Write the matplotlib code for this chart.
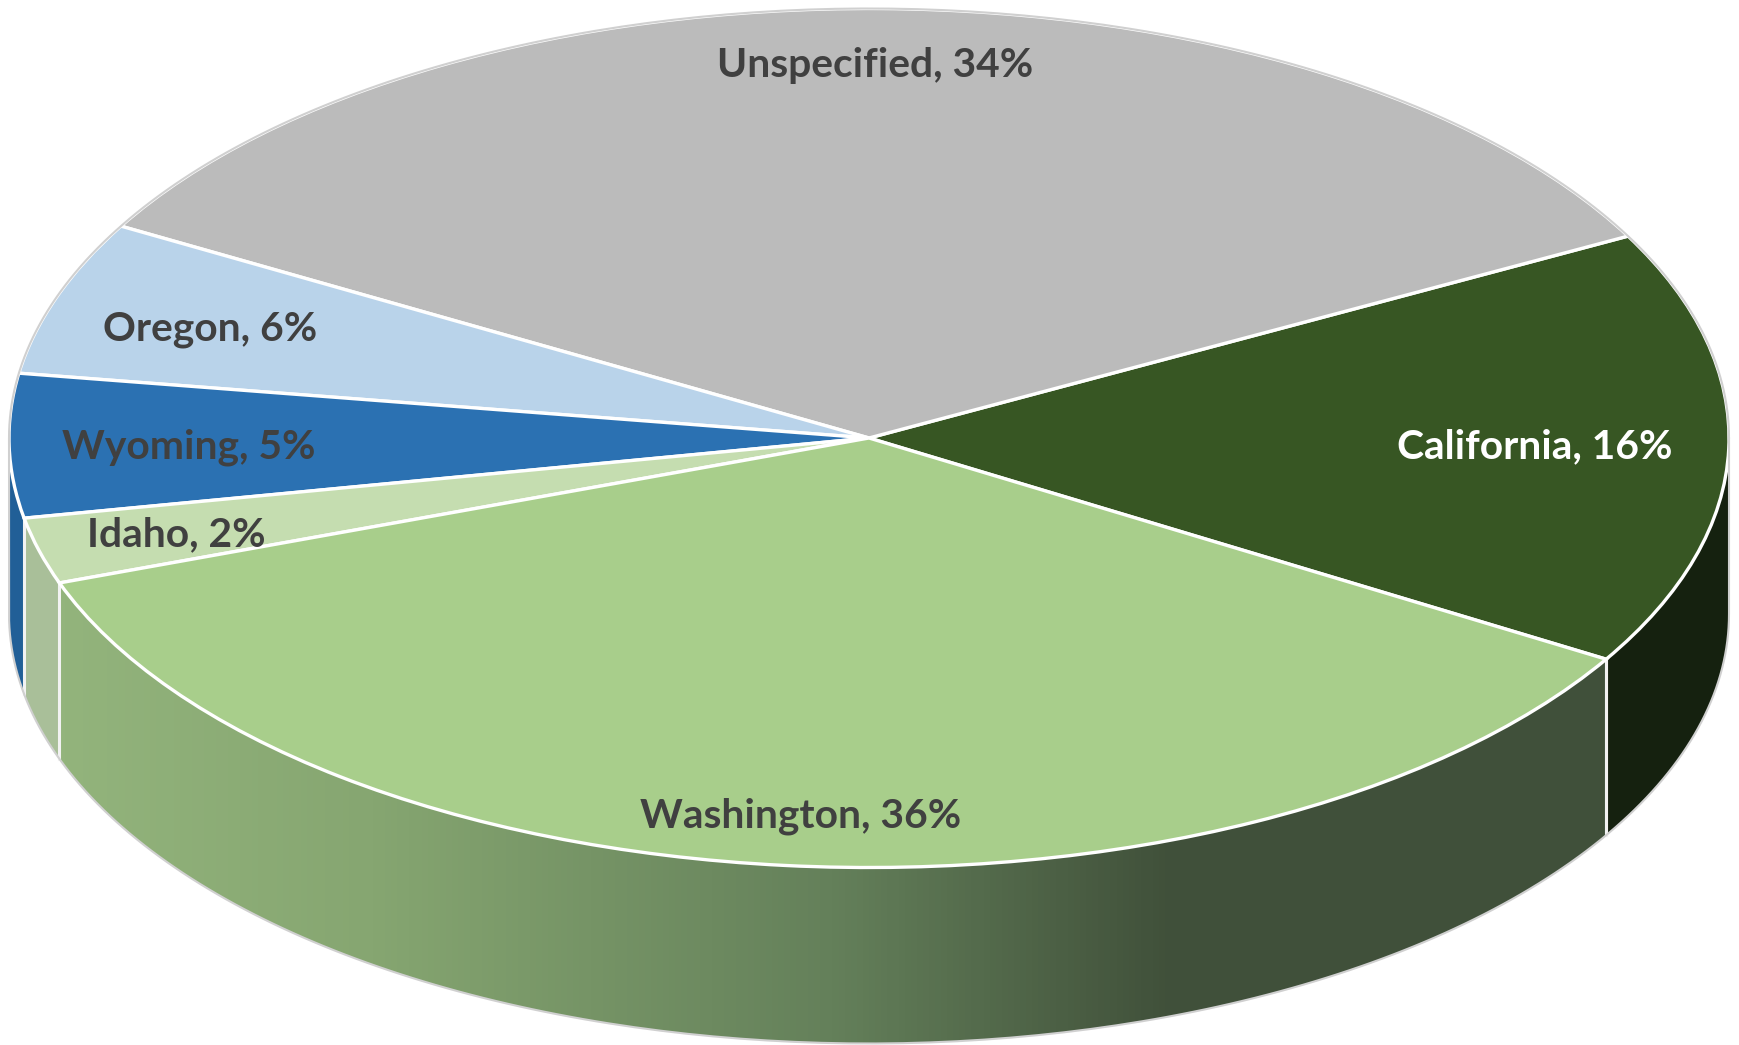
# 3D style pie of share by state, drawn on a squashed unit circle
import numpy as np
import matplotlib
matplotlib.use("Agg")
import matplotlib.pyplot as plt
from matplotlib.colors import LinearSegmentedColormap
from matplotlib.patches import Polygon

# ----------- Data -------------
STATES = ["California", "Unspecified", "Oregon", "Wyoming", "Idaho", "Washington"]
SHARES = [16.4, 34.0, 5.8, 5.4, 2.49, 35.91]
LABELS = ["California, 16%", "Unspecified, 34%", "Oregon, 6%",
          "Wyoming, 5%", "Idaho, 2%", "Washington, 36%"]

# ----------- Colours -------------
TOP_COLORS = ["#375623", "#BBBBBB", "#B9D3EA", "#2B71B2", "#C5DDB0", "#A8CE8B"]
SIDE_COLORS = ["#15210F", "#8C8C8C", "#8FA6BA", "#215F97", "#A9BF99", None]
TEXT_COLORS = ["#FFFFFF", "#404040", "#404040", "#404040", "#404040", "#404040"]
OUTLINE = "#D0D0D0"

# ----------- Layout (pixels) -------------
W, H = 1739, 1045
CX, CY = 869, 438
RX, RY = 860, 429.5
DEPTH = 176
START_ANGLE = -31
LABEL_XY = [(1535, 447), (875, 66), (210, 329), (189, 447), (176, 535), (801, 816)]
FONT_SIZE = 29.3

fig = plt.figure(figsize=(W / 100, H / 100), dpi=100, facecolor="white")
ax = fig.add_axes([0, 0, 1, 1])
xlim = (-CX / RX, (W - CX) / RX)
ylim = (-(H - CY) / RY, CY / RY)
d = DEPTH / RY


def arc(a0, a1, n=200):
    t = np.radians(np.linspace(a0, a1, n))
    return np.cos(t), np.sin(t)


def side_polygon(a0, a1):
    x, y = arc(a0, a1)
    return np.column_stack([np.r_[x, x[::-1]], np.r_[y, y[::-1] - d]])


# angles of the slices
edges = START_ANGLE + np.r_[0, np.cumsum(SHARES)] / sum(SHARES) * 360

# side walls, only the front half of the disc shows
for i in range(len(STATES)):
    a0, a1 = edges[i], edges[i + 1]
    if i == 0:
        a0, a1 = a0, min(a1, 0)
    else:
        a0 = max(a0, 180)
    if a1 <= a0:
        continue
    pts = side_polygon(a0, a1)
    if SIDE_COLORS[i] is None:
        # Washington wall has a left to right gradient
        cmap = LinearSegmentedColormap.from_list(
            "wall", [(0, "#93B47C"), (0.2, "#86A671"), (0.5, "#64805A"), (0.72, "#40503A"), (1, "#40503A")]
        )
        x0, x1 = pts[:, 0].min(), pts[:, 0].max()
        im = ax.imshow(np.linspace(0, 1, 512).reshape(1, -1), cmap=cmap, aspect="auto",
                       extent=(x0, x1, pts[:, 1].min(), pts[:, 1].max()), zorder=1)
        im.set_clip_path(Polygon(pts, transform=ax.transData))
    else:
        ax.add_patch(Polygon(pts, facecolor=SIDE_COLORS[i], edgecolor="none", zorder=1))

# white seams on the wall
for a in edges:
    a = (a + 360) % 360
    if 180 < a < 360:
        ax.plot([np.cos(np.radians(a))] * 2, [np.sin(np.radians(a)), np.sin(np.radians(a)) - d],
                color="#F2F2F2", lw=2.2, zorder=2)

# top of the disc
ax.pie(SHARES, colors=TOP_COLORS, startangle=START_ANGLE, counterclock=True, radius=1,
       wedgeprops={"edgecolor": "white", "linewidth": 2.4, "zorder": 3}, normalize=True)
ax.set_aspect("auto")
ax.set_xlim(xlim)
ax.set_ylim(ylim)
ax.axis("off")

# thin grey silhouette
xt, yt = arc(0, 180)
xb, yb = arc(180, 360)
ax.plot(np.r_[xt, xb, xt[0]], np.r_[yt, yb - d, yt[0]], color=OUTLINE, lw=1.5, zorder=4)

for (px, py), text, col in zip(LABEL_XY, LABELS, TEXT_COLORS):
    fig.text(px / W, 1 - py / H, text, color=col, fontsize=FONT_SIZE, fontweight="bold",
             family="Lato", ha="center", va="center", zorder=5)

fig.savefig("out.png", dpi=100, facecolor="white")
plt.close(fig)
